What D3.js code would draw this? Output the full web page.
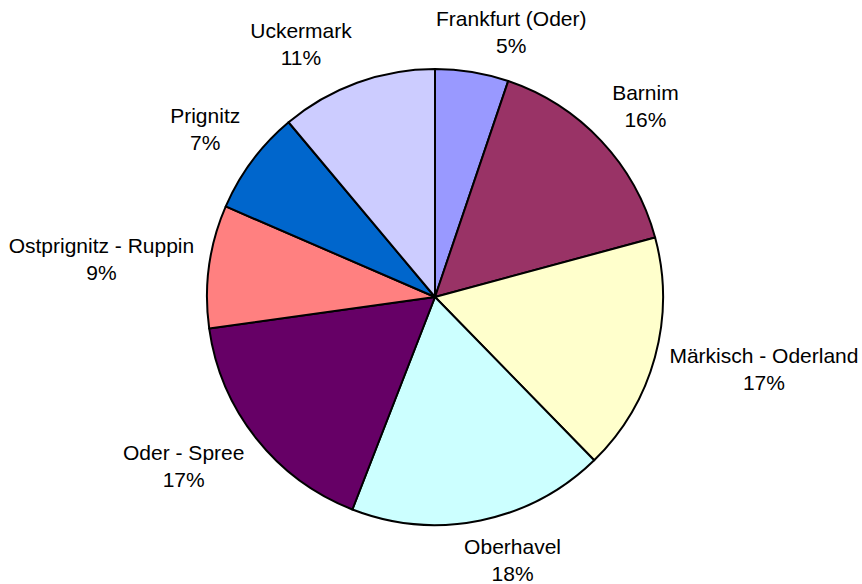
<!DOCTYPE html>
<html>
<head>
<meta charset="utf-8">
<script src="https://cdn.jsdelivr.net/npm/d3@7"></script>
<style>
  body { margin: 0; background: #fff; }
  text { font-family: Arial, "Liberation Sans", sans-serif; fill: #000; }
</style>
</head>
<body>
<div id="chart"></div>
<script>
// Daten (Anteile in %)
const kreise = ["Frankfurt (Oder)", "Barnim", "Märkisch - Oderland", "Oberhavel",
                "Oder - Spree", "Ostprignitz - Ruppin", "Prignitz", "Uckermark"];
const anteile = [5.2, 15.6, 16.9, 18.2, 16.9, 8.7, 7.4, 11.1];
const farben = ["#9999FF", "#993366", "#FFFFCC", "#CCFFFF", "#660066", "#FF8080", "#0066CC", "#CCCCFF"];

const width = 862;
const height = 584;
const cx = 435, cy = 297;
const radius = 228;
const labelRadius = 243;
const fontSize = 21;
const lineHeight = 27;

const pieData = kreise.map((k, i) => ({ name: k, value: anteile[i], color: farben[i] }));
const total = d3.sum(anteile);

const pie = d3.pie()
    .value(d => d.value)
    .sort(null)
    .startAngle(0)
    .endAngle(2 * Math.PI);

const arc = d3.arc()
    .innerRadius(0)
    .outerRadius(radius);

const svg = d3.select("#chart")
    .append("svg")
    .attr("width", width)
    .attr("height", height);

const g = svg.append("g")
    .attr("transform", "translate(" + cx + "," + cy + ")");

const arcs = pie(pieData);

g.selectAll(".slice")
    .data(arcs)
    .enter().append("path")
    .attr("class", "slice")
    .attr("d", arc)
    .attr("fill", d => d.data.color)
    .attr("stroke", "#000")
    .attr("stroke-width", 2)
    .attr("stroke-linejoin", "round");

// Beschriftungen ausserhalb des Kreises
const clamp = v => Math.max(-1, Math.min(1, v));

const labels = g.selectAll(".label")
    .data(arcs)
    .enter().append("text")
    .attr("class", "label")
    .attr("text-anchor", "middle")
    .style("font-size", fontSize + "px");

labels.each(function(d) {
    const t = d3.select(this);
    t.append("tspan").attr("x", 0).attr("y", 0).text(d.data.name);
    t.append("tspan").attr("x", 0).attr("y", lineHeight)
        .text(Math.round(d.data.value / total * 100) + "%");
    const w = this.getBBox().width;
    const a = (d.startAngle + d.endAngle) / 2;
    const dx = Math.sin(a), dy = -Math.cos(a);
    const px = dx * labelRadius + clamp(dx * 3) * w / 2;
    const py = dy * labelRadius + clamp(dy * (dy < 0 ? 1.5 : 1.2)) * 25;
    // Blockmitte -> erste Grundlinie
    t.attr("transform", "translate(" + px + "," + (py - 6) + ")");
});
</script>
</body>
</html>
